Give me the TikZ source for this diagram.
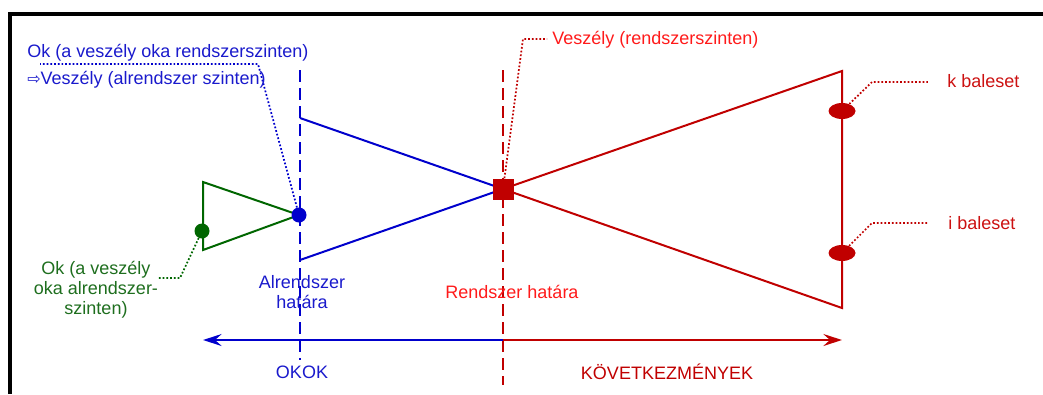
\documentclass[tikz,border=0pt]{standalone}
\usepackage{fontspec}
\setmainfont{Liberation Sans}
\newfontfamily\dejavu{DejaVu Sans}
\usetikzlibrary{shapes.geometric,arrows.meta}
\definecolor{cblue}{HTML}{0000CC}
\definecolor{tblue}{HTML}{1A1ACC}
\definecolor{cred}{HTML}{C00000}
\definecolor{bred}{HTML}{FF1A1A}
\definecolor{mred}{HTML}{CC1111}
\definecolor{cgreen}{HTML}{006600}
\definecolor{tgreen}{HTML}{1E6E1E}
\pgfdeclarelayer{bg}
\pgfsetlayers{bg,main}
\begin{document}
\begin{tikzpicture}[x=0.75pt,y=-0.75pt,
  font=\fontsize{13.5}{15}\selectfont,
  solidline/.style={line width=1.5pt},
  dashline/.style={line width=1.5pt, dash pattern=on 9pt off 4.5pt},
  leader/.style={line width=1.3pt, dash pattern=on 1.3pt off 1.5pt},
  dot/.style={circle, inner sep=0pt, minimum size=11.25pt},
  evt/.style={ellipse, inner sep=0pt, minimum width=20.25pt, minimum height=12pt, fill=cred},
  lbl/.style={inner sep=0pt, anchor=base},
  lblw/.style={inner sep=0pt, anchor=base west},
  tip/.style={-{Stealth[length=14pt,width=9pt,inset=5pt]}}
]
\useasboundingbox (0,0) rectangle (1043,394);
% frame
\draw[line width=3pt] (10,394) -- (10,14) -- (1043,14);

% key nodes
\node[dot, fill=cblue] (sub) at (299,215) {};
\node[dot, fill=cgreen] (gc) at (202,231) {};
\node[rectangle, fill=cred, inner sep=0pt, minimum size=15.75pt] (haz) at (503,189) {};
\node[evt] (k) at (842,111) {};
\node[evt] (i) at (842,253) {};

% geometry coordinates
\coordinate (bt) at (300,118);
\coordinate (bb) at (300,260);
\coordinate (rt) at (842,71);
\coordinate (rb) at (842,308);
\coordinate (gt) at (203,182);
\coordinate (gb) at (203,250);
\coordinate (bdt) at (300,70);
\coordinate (bdb) at (300,360);
\coordinate (rdt) at (503,70);
\coordinate (rdb) at (503,385);
\coordinate (amid) at (503,340);
\coordinate (al) at (203,340);
\coordinate (ar) at (842,340);
\coordinate (lb1) at (258,64);
\coordinate (lb2) at (40,64);
\coordinate (lr1) at (523,39);
\coordinate (lr2) at (547,39);
\coordinate (lg1) at (180,278);
\coordinate (lg2) at (157,278);
\coordinate (lk1) at (872,82);
\coordinate (lk2) at (929,82);
\coordinate (li1) at (872,223);
\coordinate (li2) at (929,223);

\begin{pgfonlayer}{bg}
  \draw[cblue, dashline] (bdt) -- (bdb);
  \draw[cred, dashline] (rdt) -- (rdb);
  \draw[cblue, solidline] (bt) -- (haz.center) -- (bb);
  \draw[cred, solidline, line join=miter] (haz.center) -- (rt) -- (rb) -- cycle;
  \draw[cgreen, solidline, line join=miter] (gt) -- (sub.center) -- (gb) -- cycle;
  \draw[cblue, solidline, tip] (amid) -- (al);
  \draw[cred, solidline, tip] (amid) -- (ar);
\end{pgfonlayer}

% leaders
\draw[cblue, leader] (sub) -- (lb1) -- (lb2);
\draw[cred, leader] (haz) -- (lr1) -- (lr2);
\draw[cgreen, leader] (gc) -- (lg1) -- (lg2);
\draw[cred, leader] (k) -- (lk1) -- (lk2);
\draw[cred, leader] (i) -- (li1) -- (li2);

% labels
\node[lblw, text=tblue] (t1) at (27,57) {Ok (a veszély oka rendszerszinten)};
\node[lblw, text=tblue] (t2) at (27,84) {{\dejavu\fontsize{12}{13}\selectfont ⇨}Veszély (alrendszer szinten)};
\node[lblw, text=bred] (t3) at (552,44) {Veszély (rendszerszinten)};
\node[lblw, text=mred] (t4) at (947,87) {k baleset};
\node[lblw, text=mred] (t5) at (948,229) {i baleset};
\node[text=tgreen, align=center, inner sep=0pt] (t6) at (96,290) {Ok (a veszély\\oka alrendszer-\\szinten)};
\node[text=tblue, align=center, inner sep=0pt] (t7) at (302,292.5) {Alrendszer\\határa};
\node[lbl, text=bred] (t8) at (512,298) {Rendszer határa};
\node[lbl, text=tblue] (t9) at (302,378) {OKOK};
\node[lbl, text=cred] (t10) at (667,379) {KÖVETKEZMÉNYEK};
\end{tikzpicture}
\end{document}
